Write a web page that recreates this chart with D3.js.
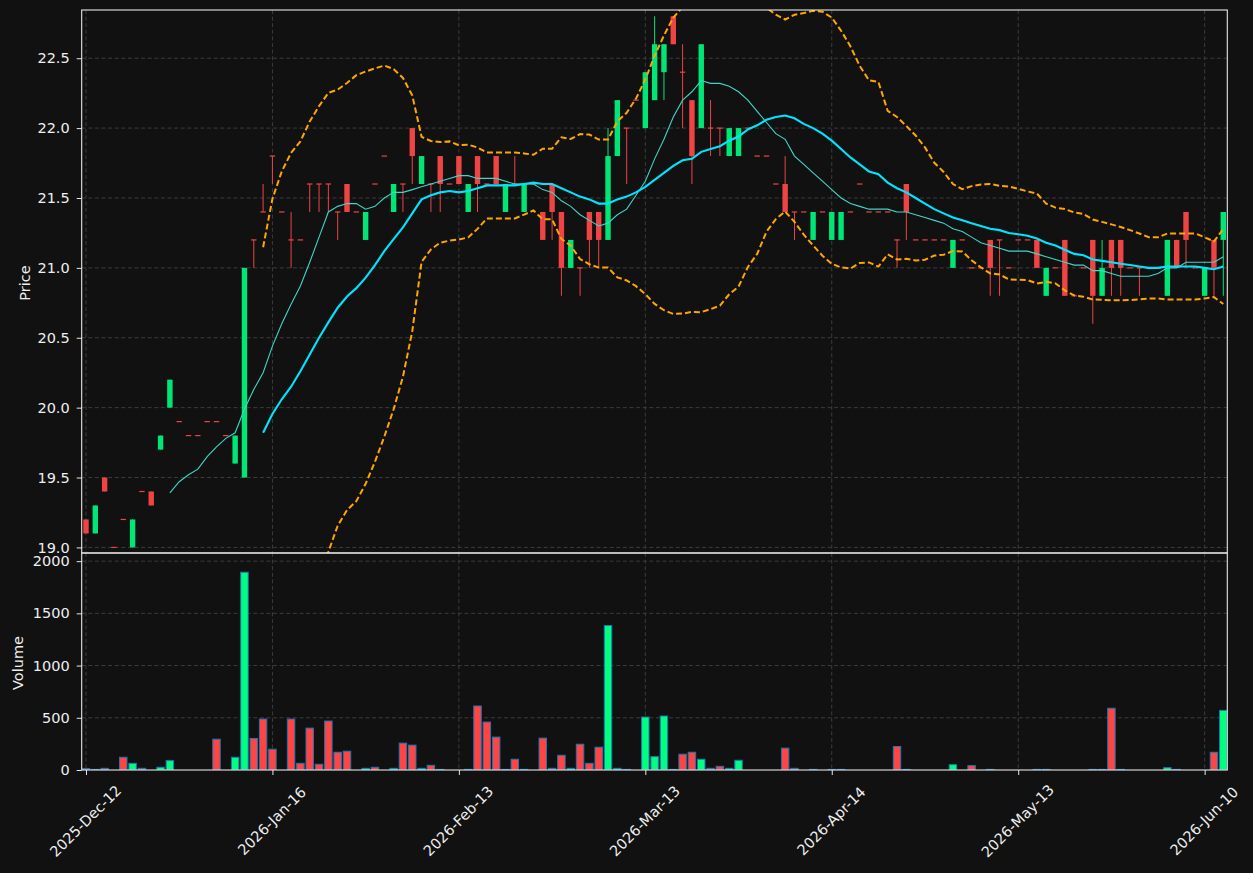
<!DOCTYPE html>
<html><head><meta charset="utf-8">
<script src="https://cdn.jsdelivr.net/npm/d3@7"></script>
<style>html,body{margin:0;padding:0;background:#111111;} svg{display:block;}</style>
</head><body>
<svg id="chart" width="1253" height="873"></svg>
<script>
// ---- data ----
const opens = [
19.2,19.1,19.5,19.0,19.2,19.0,19.4,19.4,19.7,20.0,
19.9,19.8,19.8,19.9,19.9,19.8,19.6,19.5,21.2,21.4,
21.8,21.4,21.2,21.2,21.6,21.6,21.6,21.4,21.6,21.4,
21.2,21.6,21.8,21.4,21.6,22.0,21.6,21.6,21.8,21.6,
21.8,21.4,21.8,21.6,21.8,21.4,21.6,21.4,21.6,21.4,
21.6,21.4,21.0,21.0,21.4,21.4,21.2,21.8,22.0,22.2,
22.0,22.2,22.4,22.8,22.4,22.2,22.0,22.0,22.0,21.8,
21.8,22.0,21.8,21.8,21.6,21.6,21.4,21.4,21.2,21.4,
21.2,21.2,21.4,21.6,21.4,21.4,21.4,21.2,21.6,21.2,
21.2,21.2,21.2,21.0,21.2,21.0,21.0,21.2,21.2,21.0,
21.2,21.2,21.2,20.8,21.0,21.2,20.8,21.0,21.2,20.8,
21.2,21.2,21.0,21.0,21.0,21.0,20.8,21.2,21.4,21.0,
20.8,21.2,21.2];
const highs = [
19.2,19.3,19.5,19.0,19.2,19.2,19.4,19.4,19.8,20.2,
19.9,19.8,19.8,19.9,19.9,19.8,19.8,21.0,21.2,21.6,
21.8,21.4,21.4,21.2,21.6,21.6,21.6,21.4,21.6,21.4,
21.4,21.6,21.8,21.6,21.6,22.0,21.8,21.6,21.8,21.6,
21.8,21.6,21.8,21.6,21.8,21.6,21.8,21.6,21.6,21.4,
21.6,21.4,21.2,21.0,21.4,21.4,22.0,22.2,22.0,22.2,
22.4,22.8,22.6,22.8,22.6,22.2,22.6,22.2,22.0,22.0,
22.0,22.0,21.8,21.8,21.6,21.8,21.4,21.4,21.4,21.4,
21.4,21.4,21.4,21.6,21.4,21.4,21.4,21.2,21.6,21.2,
21.2,21.2,21.2,21.2,21.2,21.0,21.0,21.2,21.2,21.0,
21.2,21.2,21.2,21.0,21.0,21.2,20.8,21.0,21.2,21.2,
21.2,21.2,21.0,21.0,21.0,21.0,21.2,21.2,21.4,21.0,
21.0,21.2,21.4];
const lows = [
19.1,19.1,19.4,19.0,19.2,19.0,19.4,19.3,19.7,20.0,
19.9,19.8,19.8,19.9,19.9,19.8,19.6,19.5,21.0,21.4,
21.6,21.4,21.0,21.2,21.4,21.4,21.4,21.2,21.4,21.4,
21.2,21.6,21.8,21.4,21.4,21.6,21.6,21.4,21.4,21.6,
21.6,21.4,21.4,21.6,21.6,21.4,21.6,21.4,21.6,21.2,
21.2,20.8,21.0,20.8,21.0,21.0,21.2,21.8,21.6,22.2,
22.0,22.2,22.2,22.6,22.0,21.6,22.0,21.8,21.8,21.8,
21.8,22.0,21.8,21.8,21.6,21.4,21.2,21.4,21.2,21.4,
21.2,21.2,21.4,21.6,21.4,21.4,21.4,21.0,21.2,21.2,
21.2,21.2,21.2,21.0,21.2,21.0,21.0,20.8,20.8,21.0,
21.2,21.2,21.0,20.8,21.0,20.8,20.8,21.0,20.6,20.8,
20.8,20.8,21.0,20.8,21.0,21.0,20.8,21.0,21.0,21.0,
20.8,20.8,20.8];
const closes = [
19.1,19.3,19.4,19.0,19.2,19.2,19.4,19.3,19.8,20.2,
19.9,19.8,19.8,19.9,19.9,19.8,19.8,21.0,21.2,21.4,
21.8,21.4,21.2,21.2,21.6,21.6,21.6,21.4,21.4,21.4,
21.4,21.6,21.8,21.6,21.6,21.8,21.8,21.6,21.6,21.6,
21.6,21.6,21.6,21.6,21.6,21.6,21.6,21.6,21.6,21.2,
21.4,21.0,21.2,21.0,21.2,21.2,21.8,22.2,22.0,22.2,
22.4,22.6,22.6,22.6,22.4,21.8,22.6,22.0,22.0,22.0,
22.0,22.0,21.8,21.8,21.6,21.4,21.4,21.4,21.4,21.4,
21.4,21.4,21.4,21.6,21.4,21.4,21.4,21.2,21.4,21.2,
21.2,21.2,21.2,21.2,21.2,21.0,21.0,21.0,21.2,21.0,
21.2,21.2,21.0,21.0,21.0,20.8,20.8,21.0,20.8,21.0,
21.0,21.0,21.0,21.0,21.0,21.0,21.2,21.0,21.2,21.0,
21.0,21.0,21.4];
const volumes = [
15,6,16,0,122,64,16,0,26,90,
0,0,0,0,295,0,122,1894,302,488,
199,0,488,64,401,55,469,170,180,0,
16,26,0,16,257,238,16,45,6,0,
0,6,613,459,315,6,103,6,0,305,
16,141,16,247,64,218,1384,16,6,0,
507,128,517,6,151,170,103,16,35,16,
93,0,0,0,0,209,16,0,6,0,
6,6,0,0,0,0,0,225,6,0,
0,0,0,51,0,42,0,6,0,0,
0,0,6,6,0,0,0,0,6,6,
591,6,0,0,0,0,22,6,0,0,
0,170,571];
// 10-bar average line (starts at bar 9)
const ma10Start = 9;
const ma10 = [
19.39,19.47,19.52,19.56,19.65,19.72,19.78,19.82,19.99,20.13,
20.25,20.44,20.60,20.74,20.87,21.04,21.22,21.40,21.44,21.46,
21.46,21.42,21.44,21.50,21.54,21.54,21.56,21.58,21.60,21.62,
21.64,21.66,21.66,21.64,21.64,21.64,21.62,21.60,21.60,21.60,
21.56,21.54,21.48,21.44,21.38,21.34,21.30,21.32,21.38,21.42,
21.52,21.62,21.78,21.92,22.08,22.20,22.26,22.34,22.32,22.32,
22.30,22.26,22.20,22.12,22.04,21.96,21.92,21.80,21.74,21.68,
21.62,21.56,21.50,21.46,21.44,21.42,21.42,21.42,21.40,21.40,
21.38,21.36,21.34,21.32,21.28,21.26,21.22,21.18,21.16,21.14,
21.12,21.12,21.12,21.10,21.08,21.06,21.04,21.02,21.02,20.98,
20.98,20.96,20.94,20.94,20.94,20.94,20.96,21.00,21.00,21.04,
21.04,21.04,21.04,21.08];
// 20-bar average line and bands (start at bar 19)
const ma20Start = 19;
const ma20 = [
19.82,19.955,20.06,20.15,20.26,20.38,20.50,20.61,20.715,20.795,
20.855,20.93,21.02,21.12,21.205,21.29,21.39,21.49,21.52,21.54,
21.55,21.54,21.55,21.57,21.59,21.59,21.59,21.59,21.60,21.61,
21.60,21.60,21.57,21.54,21.51,21.49,21.46,21.46,21.49,21.51,
21.54,21.58,21.63,21.68,21.73,21.77,21.78,21.83,21.85,21.87,
21.91,21.94,21.99,22.02,22.06,22.08,22.09,22.07,22.03,22.00,
21.96,21.91,21.85,21.79,21.74,21.69,21.67,21.61,21.57,21.54,
21.50,21.46,21.42,21.39,21.36,21.34,21.32,21.30,21.28,21.27,
21.25,21.24,21.23,21.21,21.18,21.16,21.13,21.10,21.09,21.06,
21.05,21.04,21.03,21.02,21.01,21.00,21.00,21.01,21.01,21.01,
21.01,21.00,20.99,21.01];
const upperBand = [
21.148,21.494,21.69,21.823,21.905,22.048,22.157,22.252,22.275,22.323,
22.379,22.405,22.427,22.448,22.422,22.359,22.234,21.937,21.908,21.90,
21.905,21.877,21.882,21.861,21.826,21.826,21.826,21.826,21.819,21.809,
21.853,21.853,21.934,21.922,21.957,21.954,21.918,21.918,22.048,22.11,
22.211,22.348,22.518,22.663,22.79,22.867,22.875,22.977,22.995,23.01,
23.009,23.014,22.974,22.94,22.861,22.811,22.777,22.811,22.823,22.839,
22.833,22.791,22.697,22.585,22.445,22.341,22.331,22.123,22.08,22.015,
21.947,21.862,21.752,21.686,21.60,21.563,21.585,21.597,21.60,21.587,
21.582,21.565,21.547,21.532,21.46,21.431,21.421,21.397,21.386,21.346,
21.329,21.311,21.292,21.27,21.246,21.219,21.219,21.246,21.246,21.246,
21.246,21.219,21.189,21.278];
const lowerBand = [
18.492,18.416,18.43,18.477,18.615,18.712,18.843,18.968,19.155,19.267,
19.331,19.455,19.613,19.792,19.988,20.221,20.546,21.043,21.132,21.18,
21.195,21.203,21.218,21.279,21.354,21.354,21.354,21.354,21.381,21.411,
21.347,21.347,21.206,21.158,21.063,21.026,21.002,21.002,20.932,20.91,
20.869,20.812,20.742,20.697,20.67,20.673,20.685,20.683,20.705,20.73,
20.811,20.866,21.006,21.10,21.259,21.349,21.403,21.329,21.237,21.161,
21.087,21.029,21.003,20.995,21.035,21.039,21.009,21.097,21.06,21.065,
21.053,21.058,21.088,21.094,21.12,21.117,21.055,21.003,20.96,20.953,
20.918,20.915,20.913,20.888,20.90,20.889,20.839,20.803,20.794,20.774,
20.771,20.769,20.768,20.77,20.774,20.781,20.781,20.774,20.774,20.774,
20.774,20.781,20.791,20.742];
const tickIndex = [0,20,40,60,80,100,120];
const tickLabels = ["2025-Dec-12","2026-Jan-16","2026-Feb-13","2026-Mar-13","2026-Apr-14","2026-May-13","2026-Jun-10"];
const priceTicks = [19.0,19.5,20.0,20.5,21.0,21.5,22.0,22.5];
const volumeTicks = [0,500,1000,1500,2000];

// ---- layout ----
const W = 1253, H = 873;
const L = 81.7, R = 1227.3;
const pTop = 10, pBot = 553, vTop = 553, vBot = 770;
const UP = "#00e676", DOWN = "#ef4444";
const UPV = "#00ff7f", DOWNV = "#ff4444";
const FONT = "'DejaVu Sans', sans-serif";
const FS = "14.5px";
const TXT = "#eeeeee";

const svg = d3.select("#chart");
svg.append("rect").attr("width", W).attr("height", H).attr("fill", "#111111");

const n = closes.length;
const x = d3.scaleLinear().domain([-0.46, 122.43]).range([L, R]);
const yP = d3.scaleLinear().domain([18.96, 22.845]).range([pBot, pTop]);
const yV = d3.scaleLinear().domain([0, 2078]).range([vBot, vTop]);
const step = x(1) - x(0);

const defs = svg.append("defs");
defs.append("clipPath").attr("id", "clipP").append("rect")
  .attr("x", L).attr("y", pTop).attr("width", R - L).attr("height", pBot - pTop);
defs.append("clipPath").attr("id", "clipV").append("rect")
  .attr("x", L).attr("y", vTop).attr("width", R - L).attr("height", vBot - vTop);

// ---- grids ----
const gridStyle = g => g.attr("stroke", "#3c3c3c").attr("stroke-width", 1).attr("stroke-dasharray", "4,2.6");
const grid = svg.append("g");
grid.selectAll(".hp").data(priceTicks).join("line").attr("class","hp")
  .attr("x1", L).attr("x2", R).attr("y1", d => yP(d)).attr("y2", d => yP(d)).call(gridStyle);
grid.selectAll(".hv").data(volumeTicks.filter(d => d > 0)).join("line").attr("class","hv")
  .attr("x1", L).attr("x2", R).attr("y1", d => yV(d)).attr("y2", d => yV(d)).call(gridStyle);
grid.selectAll(".vp").data(tickIndex).join("line").attr("class","vp")
  .attr("x1", d => x(d)).attr("x2", d => x(d)).attr("y1", pTop).attr("y2", pBot).call(gridStyle);
grid.selectAll(".vv").data(tickIndex).join("line").attr("class","vv")
  .attr("x1", d => x(d)).attr("x2", d => x(d)).attr("y1", vTop).attr("y2", vBot).call(gridStyle);

// ---- candles ----
const idx = d3.range(n);
const cg = svg.append("g").attr("clip-path", "url(#clipP)");
const isUp = i => closes[i] > opens[i];
cg.selectAll(".wick").data(idx).join("line").attr("class","wick")
  .attr("x1", i => x(i)).attr("x2", i => x(i))
  .attr("y1", i => yP(highs[i])).attr("y2", i => yP(lows[i]))
  .attr("stroke", i => isUp(i) ? UP : DOWN).attr("stroke-width", 1);
const bw = 5.4;
cg.selectAll(".body").data(idx).join("rect").attr("class","body")
  .attr("x", i => x(i) - bw / 2).attr("width", bw)
  .attr("y", i => {
    const t = yP(Math.max(opens[i], closes[i])), b = yP(Math.min(opens[i], closes[i]));
    return (b - t) < 1.2 ? t - 0.6 : t;
  })
  .attr("height", i => Math.max(1.2, yP(Math.min(opens[i], closes[i])) - yP(Math.max(opens[i], closes[i]))))
  .attr("fill", i => isUp(i) ? UP : DOWN);

// ---- indicator lines ----
const lg = svg.append("g").attr("clip-path", "url(#clipP)");
const mkLine = start => d3.line().x((d, j) => x(start + j)).y(d => yP(d));
lg.append("path").datum(ma10).attr("d", mkLine(ma10Start))
  .attr("fill", "none").attr("stroke", "#3fd6c8").attr("stroke-width", 1.1);
lg.append("path").datum(ma20).attr("d", mkLine(ma20Start))
  .attr("fill", "none").attr("stroke", "#00e5ff").attr("stroke-width", 2.1);
[upperBand, lowerBand].forEach(b => {
  lg.append("path").datum(b).attr("d", mkLine(ma20Start))
    .attr("fill", "none").attr("stroke", "#ffa500").attr("stroke-width", 2)
    .attr("stroke-dasharray", "6,3");
});

// ---- volume ----
const vg = svg.append("g").attr("clip-path", "url(#clipV)");
const vw = step * 0.8;
vg.selectAll(".vol").data(idx).join("rect").attr("class","vol")
  .attr("x", i => x(i) - vw / 2).attr("width", vw)
  .attr("y", i => yV(volumes[i])).attr("height", i => yV(0) - yV(volumes[i]))
  .attr("fill", i => isUp(i) ? UPV : DOWNV)
  .attr("stroke", "#1f77b4").attr("stroke-width", 1);

// ---- axes ----
function styleAxis(g) {
  g.select(".domain").remove();
  g.selectAll(".tick line").attr("stroke", "#e8e8e8").attr("stroke-width", 1);
  g.selectAll(".tick text").attr("fill", TXT).style("font-family", FONT).style("font-size", FS);
}
svg.append("g").attr("transform", `translate(${L},0)`)
  .call(d3.axisLeft(yP).tickValues(priceTicks).tickFormat(d3.format(".1f")).tickSize(5).tickPadding(7))
  .call(styleAxis);
svg.append("g").attr("transform", `translate(${L},0)`)
  .call(d3.axisLeft(yV).tickValues(volumeTicks).tickFormat(d3.format("d")).tickSize(5).tickPadding(7))
  .call(styleAxis);
const xa = svg.append("g").attr("transform", `translate(0,${vBot})`)
  .call(d3.axisBottom(x).tickValues(tickIndex).tickFormat((d, i) => tickLabels[i]).tickSize(5))
  .call(styleAxis);
xa.selectAll(".tick text")
  .attr("y", 0).attr("dy", "0.35em").attr("text-anchor", "middle")
  .attr("transform", "translate(-1,51) rotate(-45)");

// ---- spines ----
svg.append("rect").attr("x", L).attr("y", pTop).attr("width", R - L).attr("height", pBot - pTop)
  .attr("fill", "none").attr("stroke", "#e8e8e8").attr("stroke-width", 1.1);
svg.append("rect").attr("x", L).attr("y", vTop).attr("width", R - L).attr("height", vBot - vTop)
  .attr("fill", "none").attr("stroke", "#e8e8e8").attr("stroke-width", 1.1);

// ---- axis titles ----
svg.append("text").attr("transform", "translate(29.5,283) rotate(-90)")
  .attr("text-anchor", "middle").attr("fill", TXT)
  .style("font-family", FONT).style("font-size", FS).text("Price");
svg.append("text").attr("transform", "translate(23.3,663) rotate(-90)")
  .attr("text-anchor", "middle").attr("fill", TXT)
  .style("font-family", FONT).style("font-size", FS).text("Volume");
</script>
</body></html>
